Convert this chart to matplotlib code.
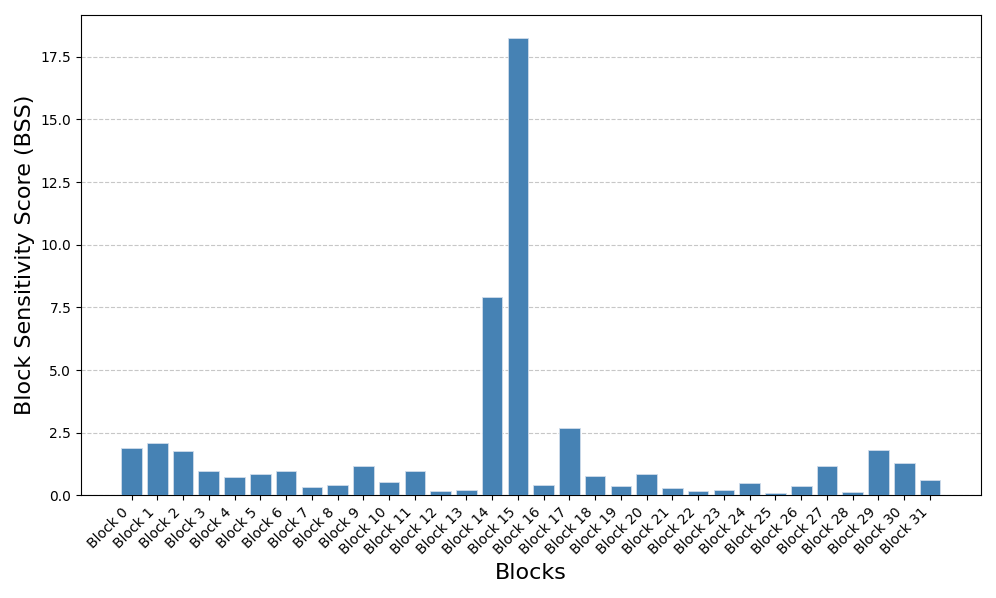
import numpy as np
import matplotlib.pyplot as plt

blocks = [f'Block {i}' for i in range(32)]
bss = [1.90, 2.10, 1.78, 0.96, 0.73, 0.85, 0.96, 0.33, 0.41, 1.17,
       0.52, 0.97, 0.19, 0.21, 7.90, 18.25, 0.43, 2.71, 0.77, 0.37,
       0.85, 0.28, 0.19, 0.20, 0.49, 0.09, 0.37, 1.18, 0.13, 1.82,
       1.29, 0.63]

fig, ax = plt.subplots(figsize=(9.96, 5.98), dpi=100)
x = np.arange(len(blocks))
ax.bar(x, bss, color='steelblue', edgecolor='#d0dcea', linewidth=0.6, zorder=3)
ax.set_xticks(x)
ax.set_xticklabels(blocks, rotation=45, ha='right', fontsize=10)
ax.set_xlabel('Blocks', fontsize=16)
ax.set_ylabel('Block Sensitivity Score (BSS)', fontsize=16)
ax.yaxis.grid(True, linestyle='--', alpha=0.7, zorder=0)
ax.set_xlim(-1.96, 32.98)
plt.tight_layout()
plt.savefig('out.png')
